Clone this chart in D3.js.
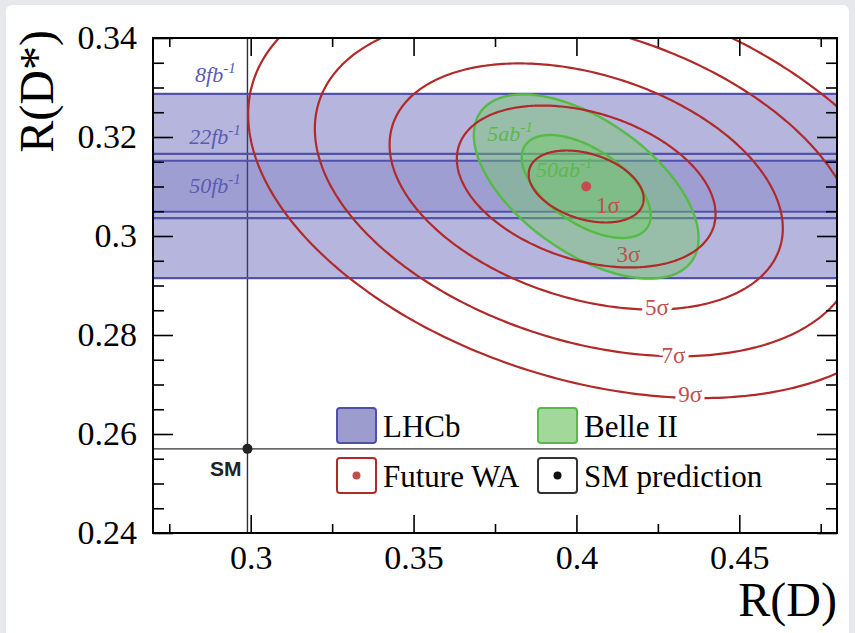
<!DOCTYPE html>
<html>
<head>
<meta charset="utf-8">
<script src="https://cdn.jsdelivr.net/npm/d3@7"></script>
<style>
  html, body { margin: 0; padding: 0; background: #e6e8eb; }
  svg { display: block; }
</style>
</head>
<body>
<svg id="chart" width="855" height="633"></svg>
<script>
// ---------------- data ----------------
const xTickValues = [0.30, 0.35, 0.40, 0.45];
const xTickLabels = ["0.3", "0.35", "0.4", "0.45"];
const xMinorValues = [0.275, 0.325, 0.375, 0.425, 0.475];
const yTickValues = [0.24, 0.26, 0.28, 0.30, 0.32, 0.34];
const yTickLabels = ["0.24", "0.26", "0.28", "0.3", "0.32", "0.34"];
const yMinorValues = d3.range(0.245, 0.34, 0.005).filter(v => Math.abs(v / 0.02 - Math.round(v / 0.02)) > 1e-6);

// LHCb R(D*) projections (bands)
const bandNames = ["8fb", "22fb", "50fb"];
const bandLow = [0.2915, 0.3036, 0.3049];
const bandHigh = [0.3287, 0.3166, 0.3152];
const bandLabelX = [0.2829, 0.2811, 0.2811];
const bandLabelY = [0.3311, 0.3186, 0.3087];

// Future world average
const waPoint = [0.403, 0.310];
const waSigmaX = 0.01765;   // 1σ contour half-extent in R(D)
const waSigmaY = 0.00727;   // 1σ contour half-extent in R(D*)
const waRho = -0.34;
const contourNames = ["1σ", "3σ", "5σ", "7σ", "9σ"];
const contourScale = [1, 2.25, 3.42, 4.72, 5.88];
const contourLabelX = [0.4097, 0.4160, 0.4247, 0.4298, 0.4349];
const contourLabelY = [0.3046, 0.2947, 0.2840, 0.2743, 0.2665];

// Belle II projections
const belleNames = ["5ab", "50ab"];
const belleSigmaX = [0.0345, 0.0198];
const belleSigmaY = [0.0186, 0.0104];
const belleRho = [-0.56, -0.56];
const belleLabelX = [0.3726, 0.3876];
const belleLabelY = [0.3192, 0.3119];

// SM prediction
const smPoint = [0.299, 0.257];

const legendLabels = ["LHCb", "Belle II", "Future WA", "SM prediction"];

// ---------------- layout ----------------
const L = 153, R = 837, T = 38, B = 533;
const serif = "'Liberation Serif', 'Times New Roman', serif";

const svg = d3.select("#chart");
svg.append("rect").attr("x", 6).attr("y", 5).attr("width", 843).attr("height", 660)
  .attr("rx", 6).attr("fill", "#ffffff");

const x = d3.scaleLinear().domain([0.27, 0.48]).range([L, R]);
const y = d3.scaleLinear().domain([0.24, 0.34]).range([B, T]);

svg.append("defs").append("clipPath").attr("id", "plotclip")
  .append("rect").attr("x", L).attr("y", T).attr("width", R - L).attr("height", B - T);

const plot = svg.append("g").attr("clip-path", "url(#plotclip)");

// SM lines
plot.append("line").attr("x1", x(smPoint[0])).attr("x2", x(smPoint[0]))
  .attr("y1", T).attr("y2", B).attr("stroke", "#333").attr("stroke-width", 1.4);
plot.append("line").attr("x1", L).attr("x2", R)
  .attr("y1", y(smPoint[1])).attr("y2", y(smPoint[1])).attr("stroke", "#333").attr("stroke-width", 1.4);

// bands
const bandFill = ["rgba(70,70,170,0.40)", "rgba(70,70,170,0.0)", "rgba(70,70,170,0.20)"];
bandNames.forEach((n, i) => {
  plot.append("rect").attr("x", L).attr("width", R - L)
    .attr("y", y(bandHigh[i])).attr("height", y(bandLow[i]) - y(bandHigh[i]))
    .attr("fill", bandFill[i]);
});
bandNames.forEach((n, i) => {
  [bandLow[i], bandHigh[i]].forEach(v => {
    plot.append("line").attr("x1", L).attr("x2", R).attr("y1", y(v)).attr("y2", y(v))
      .attr("stroke", "#5252aa").attr("stroke-width", 2.2);
  });
});

// ellipse helper
function ellipse(cx, cy, sx, sy, rho) {
  const n = 360;
  return d3.range(n + 1).map(i => {
    const t = 2 * Math.PI * i / n;
    return [cx + sx * Math.cos(t), cy + sy * (rho * Math.cos(t) + Math.sqrt(1 - rho * rho) * Math.sin(t))];
  });
}
const line = d3.line().x(d => x(d[0])).y(d => y(d[1]));

// Belle II
belleNames.forEach((n, i) => {
  plot.append("path")
    .attr("d", line(ellipse(waPoint[0], waPoint[1], belleSigmaX[i], belleSigmaY[i], belleRho[i])))
    .attr("fill", "rgba(110,205,95,0.40)")
    .attr("stroke", "#55bb44").attr("stroke-width", 2.4);
});

// red contours
contourNames.forEach((n, i) => {
  plot.append("path")
    .attr("d", line(ellipse(waPoint[0], waPoint[1], waSigmaX * contourScale[i], waSigmaY * contourScale[i], waRho)))
    .attr("fill", "none").attr("stroke", "#b02a2a").attr("stroke-width", 2.2);
});

// labels
const labels = svg.append("g").attr("font-family", serif);
bandNames.forEach((n, i) => {
  const t = labels.append("text").attr("x", x(bandLabelX[i])).attr("y", y(bandLabelY[i]))
    .attr("font-size", 22).attr("font-style", "italic").attr("fill", "#5a5ab4");
  t.append("tspan").text(n);
  t.append("tspan").attr("dy", -9).attr("font-size", 15).text("-1");
});
belleNames.forEach((n, i) => {
  const t = labels.append("text").attr("x", x(belleLabelX[i])).attr("y", y(belleLabelY[i]))
    .attr("font-size", 22).attr("font-style", "italic").attr("fill", "#5cb84c");
  t.append("tspan").text(n);
  t.append("tspan").attr("dy", -9).attr("font-size", 15).text("-1");
});
contourNames.forEach((n, i) => {
  const t = labels.append("text").attr("x", x(contourLabelX[i])).attr("y", y(contourLabelY[i]))
    .attr("text-anchor", "middle").attr("font-size", 23).attr("fill", "#c0504d").text(n);
  if (i >= 2) t.attr("stroke", "#ffffff").attr("stroke-width", 8).attr("paint-order", "stroke");
});

// points
svg.append("circle").attr("cx", x(waPoint[0])).attr("cy", y(waPoint[1])).attr("r", 5).attr("fill", "#c0504d");
svg.append("circle").attr("cx", x(smPoint[0])).attr("cy", y(smPoint[1])).attr("r", 5).attr("fill", "#222");
svg.append("text").attr("x", x(smPoint[0]) - 6).attr("y", y(smPoint[1]) + 27)
  .attr("text-anchor", "end").attr("font-family", "'Liberation Sans', Arial, sans-serif")
  .attr("font-weight", "bold").attr("font-size", 21).attr("fill", "#222").text("SM");

// axes
function styleAxis(g) {
  g.select(".domain").remove();
  g.selectAll("line").attr("stroke", "#000").attr("stroke-width", 1.6);
  g.selectAll("text").attr("font-family", serif).attr("font-size", 34).attr("fill", "#000");
}
svg.append("g").attr("transform", `translate(0,${B})`)
  .call(d3.axisBottom(x).tickValues(xTickValues).tickSize(-18).tickPadding(12)
    .tickFormat((d, i) => xTickLabels[i])).call(styleAxis);
svg.append("g").attr("transform", `translate(0,${B})`)
  .call(d3.axisBottom(x).tickValues(xMinorValues).tickSize(-9).tickFormat("")).call(styleAxis);
svg.append("g").attr("transform", `translate(0,${T})`)
  .call(d3.axisTop(x).tickValues(xTickValues).tickSize(-18).tickFormat("")).call(styleAxis);
svg.append("g").attr("transform", `translate(0,${T})`)
  .call(d3.axisTop(x).tickValues(xMinorValues).tickSize(-9).tickFormat("")).call(styleAxis);
svg.append("g").attr("transform", `translate(${L},0)`)
  .call(d3.axisLeft(y).tickValues(yTickValues).tickSize(-20).tickPadding(16)
    .tickFormat((d, i) => yTickLabels[i])).call(styleAxis);
svg.append("g").attr("transform", `translate(${L},0)`)
  .call(d3.axisLeft(y).tickValues(yMinorValues).tickSize(-11).tickFormat("")).call(styleAxis);
svg.append("g").attr("transform", `translate(${R},0)`)
  .call(d3.axisRight(y).tickValues(yTickValues).tickSize(-20).tickFormat("")).call(styleAxis);
svg.append("g").attr("transform", `translate(${R},0)`)
  .call(d3.axisRight(y).tickValues(yMinorValues).tickSize(-11).tickFormat("")).call(styleAxis);

svg.append("rect").attr("x", L).attr("y", T).attr("width", R - L).attr("height", B - T)
  .attr("fill", "none").attr("stroke", "#000").attr("stroke-width", 2);

// axis titles
svg.append("text").attr("x", R).attr("y", 616).attr("text-anchor", "end")
  .attr("font-family", serif).attr("font-size", 48).attr("fill", "#000").text("R(D)");
svg.append("text").attr("transform", "translate(53,30) rotate(-90)").attr("text-anchor", "end")
  .attr("font-family", serif).attr("font-size", 48).attr("fill", "#000").text("R(D*)");

// legend
const leg = svg.append("g");
const boxes = [
  { bx: 337, by: 408, fill: "#9c9cce", stroke: "#5050aa", dot: null },
  { bx: 538, by: 408, fill: "#a2d99a", stroke: "#55bb44", dot: null },
  { bx: 337, by: 458, fill: "#ffffff", stroke: "#b02a2a", dot: "#c0504d" },
  { bx: 538, by: 458, fill: "#ffffff", stroke: "#333333", dot: "#111" }
];
legendLabels.forEach((lab, i) => {
  const b = boxes[i];
  leg.append("rect").attr("x", b.bx).attr("y", b.by).attr("width", 39).attr("height", 35)
    .attr("rx", 3).attr("fill", b.fill).attr("stroke", b.stroke).attr("stroke-width", 2);
  if (b.dot) leg.append("circle").attr("cx", b.bx + 19.5).attr("cy", b.by + 17.5).attr("r", 4).attr("fill", b.dot);
  leg.append("text").attr("x", b.bx + 46).attr("y", b.by + 29)
    .attr("font-family", serif).attr("font-size", 31).attr("fill", "#000").text(lab);
});
</script>
</body>
</html>
